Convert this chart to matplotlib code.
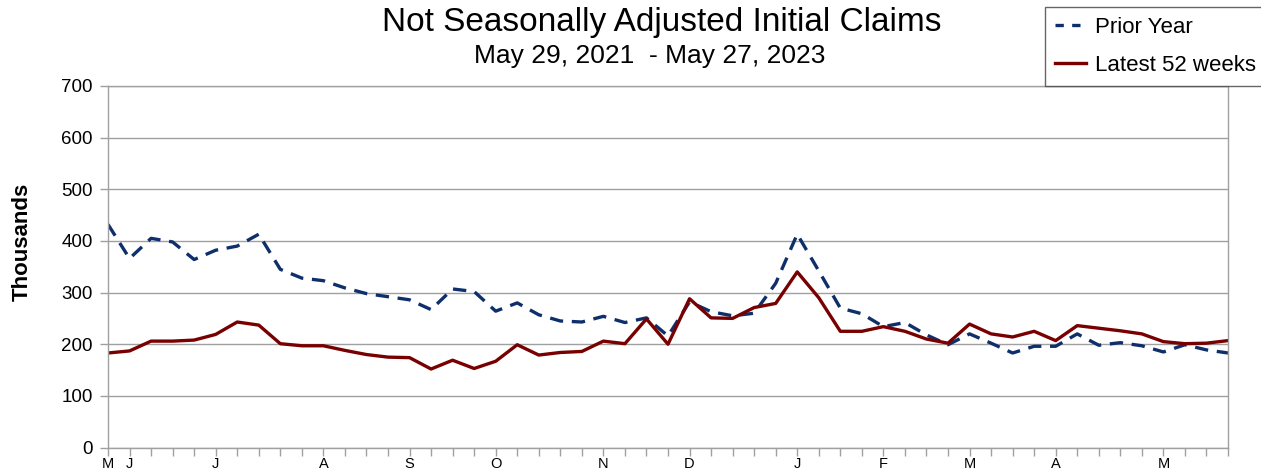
import matplotlib
matplotlib.use("Agg")
import matplotlib.pyplot as plt
from matplotlib.lines import Line2D

plt.rcParams['font.family'] = ['Liberation Sans', 'DejaVu Sans']

# Weekly data (thousands), week ending May 28 2022 .. May 27 2023
latest = [183, 187, 206, 206, 208, 219, 243, 237, 201, 197,
          197, 188, 180, 175, 174, 152, 169, 153, 167, 199,
          179, 184, 186, 206, 201, 249, 200, 288, 251, 250,
          271, 279, 340, 290, 225, 225, 234, 225, 210, 202,
          239, 220, 214, 225, 207, 236, 231, 226, 220, 205,
          201, 202, 207]
prior = [432, 366, 405, 398, 364, 382, 390, 413, 345, 328,
         323, 309, 298, 292, 286, 267, 307, 302, 264, 280,
         257, 245, 243, 254, 242, 251, 216, 282, 263, 255,
         260, 318, 413, 342, 270, 259, 234, 242, 218, 199,
         220, 202, 183, 196, 196, 220, 198, 203, 197, 185,
         199, 189, 183]

month_labels = {0: 'M', 1: 'J', 5: 'J', 10: 'A', 14: 'S', 18: 'O', 23: 'N',
                27: 'D', 32: 'J', 36: 'F', 40: 'M', 44: 'A', 49: 'M'}
yticks = [0, 100, 200, 300, 400, 500, 600, 700]

W, H = 1261, 470
fig = plt.figure(figsize=(W / 100, H / 100), dpi=100)
left, right, bottom, top = 108, 1228, 447.5, 86
ax = fig.add_axes([left / W, 1 - bottom / H, (right - left) / W, (bottom - top) / H])

weeks = list(range(len(latest)))
blue = '#0f2f6b'
red = '#780000'
ax.plot(weeks, prior, color=blue, lw=2.4, linestyle=(0, (4.0, 2.6)), label='Prior Year')
ax.plot(weeks, latest, color=red, lw=2.4, label='Latest 52 weeks')

ax.set_xlim(0, len(latest) - 1)
ax.set_ylim(0, 700)
ax.set_yticks(yticks)
ax.set_yticklabels([str(v) for v in yticks], fontsize=13.5)
ax.grid(axis='y', color='#a0a0a0', lw=1)
ax.set_axisbelow(True)

ax.set_xticks(weeks)
ax.set_xticklabels([month_labels.get(w, '') for w in weeks], fontsize=10.5)
ax.tick_params(axis='x', length=6, color='#a0a0a0', width=1, pad=1)
ax.tick_params(axis='y', length=6, color='#a0a0a0', width=1, pad=5)
for s in ax.spines.values():
    s.set_color('#a0a0a0')
    s.set_linewidth(1)

fig.text(22 / W, 1 - 242 / H, 'Thousands', rotation=90, fontsize=16, fontweight='bold',
         ha='center', va='center')
fig.text(662 / W, 1 - 22 / H, 'Not Seasonally Adjusted Initial Claims', fontsize=24,
         ha='center', va='center')
fig.text(650 / W, 1 - 56 / H, 'May 29, 2021  - May 27, 2023', fontsize=19,
         ha='center', va='center')

handles = [Line2D([], [], color=blue, lw=2.4, linestyle=(0, (2.5, 2.5))),
           Line2D([], [], color=red, lw=2.4)]
leg = fig.legend(handles, ['Prior Year', 'Latest 52 weeks'], loc='upper left',
                 bbox_to_anchor=(1045 / W, 1 - 7 / H), fontsize=16, frameon=True,
                 fancybox=False, handlelength=1.4, handletextpad=0.4,
                 labelspacing=0.75, borderpad=0.45, borderaxespad=0)
leg.get_frame().set_edgecolor('#404040')
leg.get_frame().set_linewidth(1)

fig.savefig('out.png', dpi=100)
